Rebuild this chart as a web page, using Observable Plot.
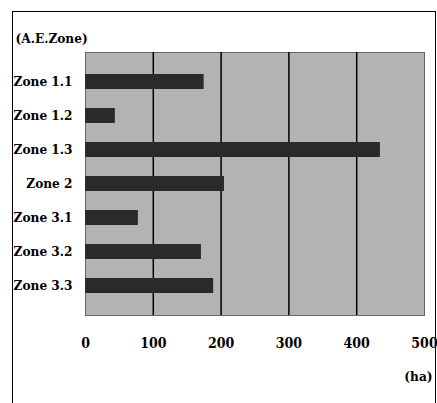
<!DOCTYPE html>
<html>
<head>
<meta charset="utf-8">
<script src="https://cdn.jsdelivr.net/npm/d3@7"></script>
<script src="https://cdn.jsdelivr.net/npm/@observablehq/plot@0.6"></script>
<style>
  html, body { margin: 0; padding: 0; background: #fff; }
  #wrap { position: relative; width: 437px; height: 403px; overflow: hidden; }
  #border { position: absolute; left: 12px; top: 11px; width: 422px; height: 400px;
            border-left: 1.5px solid #000; border-top: 1.5px solid #000; border-right: 1.5px solid #000; }
  #chart { position: absolute; left: 0; top: 0; }
</style>
</head>
<body>
<div id="wrap"><div id="border"></div><div id="chart"></div></div>
<script>
const zones = ["Zone 1.1", "Zone 1.2", "Zone 1.3", "Zone 2", "Zone 3.1", "Zone 3.2", "Zone 3.3"];
const areas = [175, 44, 435, 205, 78, 171, 189];
const xTicks = [0, 100, 200, 300, 400, 500];
const gridValues = [100, 200, 300, 400];
const yTitle = "(A.E.Zone)";
const xTitle = "(ha)";

const data = zones.map((z, i) => ({zone: z, area: areas[i]}));
const font = '"DejaVu Serif Condensed", "DejaVu Serif", serif';

const chart = Plot.plot({
  width: 437,
  height: 403,
  marginLeft: 85,
  marginRight: 13,
  marginTop: 52,
  marginBottom: 88,
  style: {fontFamily: font, fontSize: "13.5px", fontWeight: "bold", color: "#000", background: "transparent"},
  x: {domain: [0, 500]},
  y: {domain: zones, padding: 0.56},
  marks: [
    Plot.frame({fill: "#b3b3b3", stroke: "#666", strokeWidth: 1}),
    Plot.ruleX(gridValues, {stroke: "#000", strokeWidth: 1.5}),
    Plot.barX(data, {x: "area", y: "zone", fill: "#2a2a2a"}),
    Plot.axisX({ticks: xTicks, tickSize: 0, tickPadding: 23, label: null, fontSize: 14}),
    Plot.axisY({tickSize: 0, tickPadding: 13, label: null, fontSize: 13.5}),
    Plot.text([yTitle], {frameAnchor: "top-left", dx: -70, dy: -19, textAnchor: "start", fontSize: 13.5, fontWeight: "bold"}),
    Plot.text([xTitle], {frameAnchor: "bottom-right", dx: 8, dy: 65, textAnchor: "end", fontSize: 13.5, fontWeight: "bold"})
  ]
});
document.getElementById("chart").appendChild(chart);
</script>
</body>
</html>
